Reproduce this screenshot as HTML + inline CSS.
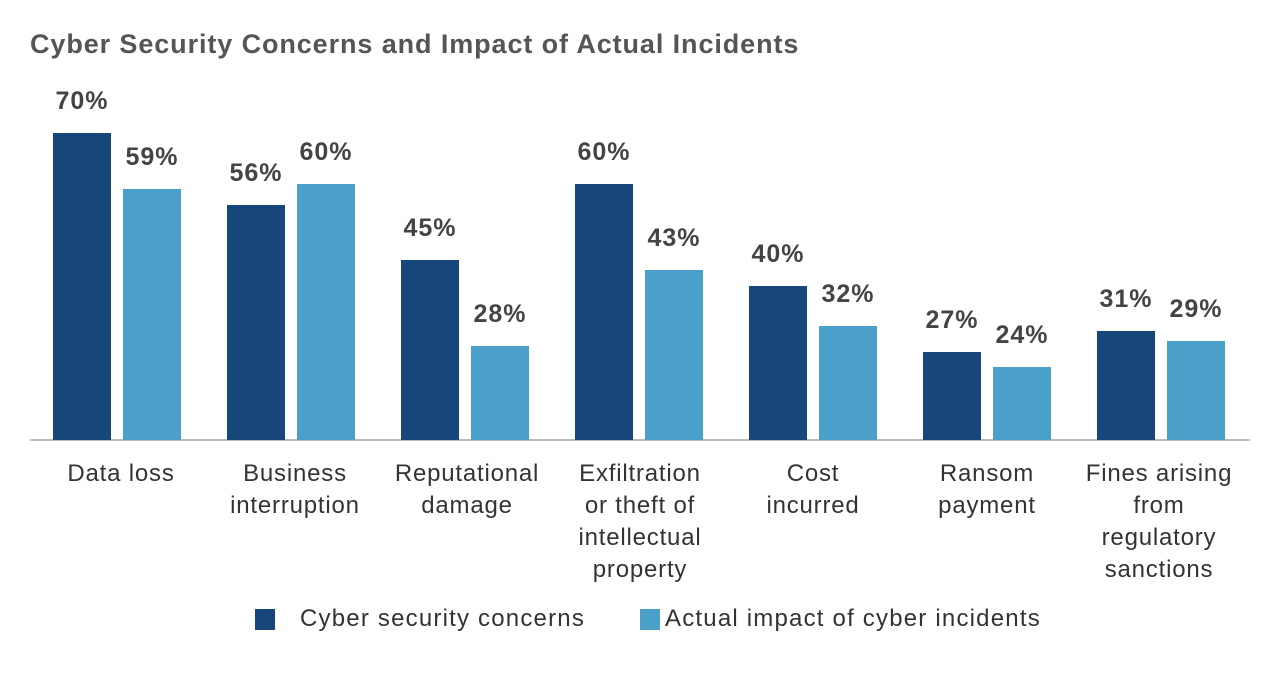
<!DOCTYPE html>
<html><head><meta charset="utf-8"><style>
body{margin:0;width:1280px;height:690px;background:#fff;font-family:"Liberation Sans",sans-serif;position:relative;overflow:hidden}
.t{position:absolute;left:30px;top:29px;font-size:27px;font-weight:bold;color:#555;letter-spacing:0.9px}
.b{position:absolute;width:58px}
.d{background:#17477a}.l{background:#4aa0c9}
.v{position:absolute;width:90px;text-align:center;font-size:25px;font-weight:bold;color:#444;line-height:26px;letter-spacing:1px}
.c{position:absolute;width:190px;text-align:center;font-size:24px;color:#333;line-height:32px;top:458px;letter-spacing:0.8px}
.ax{position:absolute;left:30px;top:439px;width:1220px;height:2px;background:#bbb}
.lg{position:absolute;top:606px;font-size:24px;color:#333;line-height:26px;letter-spacing:1.2px}
.sq{position:absolute;top:609px;width:20px;height:21px}
</style></head><body>
<div class="t">Cyber Security Concerns and Impact of Actual Incidents</div>
<div class="ax"></div>
<div class="b d" style="left:53px;top:133px;height:307px"></div>
<div class="b l" style="left:123px;top:189px;height:251px"></div>
<div class="b d" style="left:227px;top:205px;height:235px"></div>
<div class="b l" style="left:297px;top:184px;height:256px"></div>
<div class="b d" style="left:401px;top:260px;height:180px"></div>
<div class="b l" style="left:471px;top:346px;height:94px"></div>
<div class="b d" style="left:575px;top:184px;height:256px"></div>
<div class="b l" style="left:645px;top:270px;height:170px"></div>
<div class="b d" style="left:749px;top:286px;height:154px"></div>
<div class="b l" style="left:819px;top:326px;height:114px"></div>
<div class="b d" style="left:923px;top:352px;height:88px"></div>
<div class="b l" style="left:993px;top:367px;height:73px"></div>
<div class="b d" style="left:1097px;top:331px;height:109px"></div>
<div class="b l" style="left:1167px;top:341px;height:99px"></div>
<div class="v" style="left:37px;top:88px">70%</div>
<div class="v" style="left:107px;top:144px">59%</div>
<div class="v" style="left:211px;top:160px">56%</div>
<div class="v" style="left:281px;top:139px">60%</div>
<div class="v" style="left:385px;top:215px">45%</div>
<div class="v" style="left:455px;top:301px">28%</div>
<div class="v" style="left:559px;top:139px">60%</div>
<div class="v" style="left:629px;top:225px">43%</div>
<div class="v" style="left:733px;top:241px">40%</div>
<div class="v" style="left:803px;top:281px">32%</div>
<div class="v" style="left:907px;top:307px">27%</div>
<div class="v" style="left:977px;top:322px">24%</div>
<div class="v" style="left:1081px;top:286px">31%</div>
<div class="v" style="left:1151px;top:296px">29%</div>
<div class="c" style="left:26px">Data loss</div>
<div class="c" style="left:200px">Business<br>interruption</div>
<div class="c" style="left:372px">Reputational<br>damage</div>
<div class="c" style="left:545px">Exfiltration<br>or theft of<br>intellectual<br>property</div>
<div class="c" style="left:718px">Cost<br>incurred</div>
<div class="c" style="left:892px">Ransom<br>payment</div>
<div class="c" style="left:1064px">Fines arising<br>from<br>regulatory<br>sanctions</div>
<div class="sq d" style="left:255px"></div>
<div class="lg" style="left:300px">Cyber security concerns</div>
<div class="sq l" style="left:640px"></div>
<div class="lg" style="left:665px">Actual impact of cyber incidents</div>
</body></html>
